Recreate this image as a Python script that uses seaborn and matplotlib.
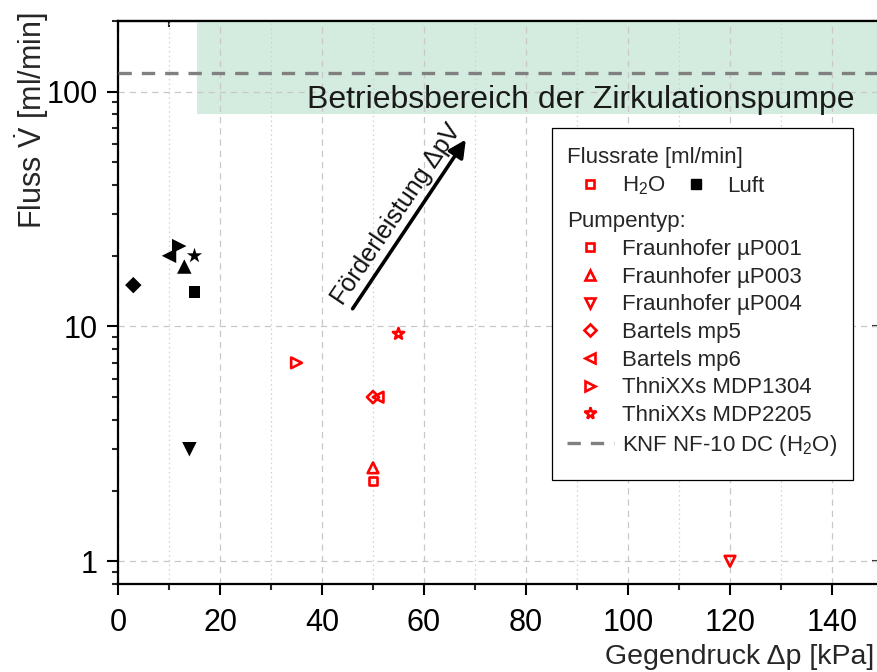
import matplotlib
matplotlib.use("Agg")
import matplotlib.pyplot as plt
from matplotlib.lines import Line2D
from matplotlib.patches import Rectangle
from matplotlib.ticker import MultipleLocator, LogLocator, FixedLocator, FixedFormatter, NullFormatter
import pandas as pd
import seaborn as sns

# ---- data -------------------------------------------------------------
pumps = ["Fraunhofer µP001", "Fraunhofer µP003", "Fraunhofer µP004",
         "Bartels mp5", "Bartels mp6", "ThniXXs MDP1304", "ThniXXs MDP2205"]
pump_markers = ["s", "^", "v", "D", "<", ">", "*"]

# back pressure [kPa] and flow rate [ml/min] per pump
h2o_pressure = [50, 50, 120, 50, 51, 35, 55]
h2o_flow = [2.2, 2.5, 1.0, 5.0, 5.0, 7.0, 9.3]
air_pressure = [15, 13, 14, 3, 10, 12, 15]
air_flow = [14, 18, 3.0, 15, 20, 22, 20]

knf_flow = 120                 # KNF NF-10 DC (water)
operating_x = [15.5, 150]      # operating range of the circulation pump
operating_y = [80, 200]

arrow_start = (46, 11.9)
arrow_end = (68.2, 62.5)

x_ticks = [0, 20, 40, 60, 80, 100, 120, 140]
y_ticks = [1, 10, 100]
y_tick_labels = ["1", "10", "100"]

# ---- style ------------------------------------------------------------
sns.set_style("white")
plt.rcParams["font.family"] = ["Liberation Sans", "DejaVu Sans"]
plt.rcParams["mathtext.fontset"] = "custom"
plt.rcParams["mathtext.rm"] = "Liberation Sans"
plt.rcParams["mathtext.it"] = "Liberation Sans:italic"
plt.rcParams["mathtext.bf"] = "Liberation Sans:bold"

W, H = 877, 672
fig = plt.figure(figsize=(W / 100, H / 100), dpi=100)
ax = fig.add_axes([118 / W, 1 - 584 / H, 765 / W, 563 / H])
ax.set_xscale("linear")
ax.set_yscale("log")
ax.set_xlim(0, 150)
ax.set_ylim(0.8, 200)

# operating range band
ax.fill_between(operating_x, operating_y[0], operating_y[1],
                color="#d4ecdf", linewidth=0, zorder=0.2)
ax.text(144.5, 85.5, "Betriebsbereich der Zirkulationspumpe",
        ha="right", va="baseline", fontsize=23, color="#1a1a1a", zorder=3)

# KNF reference flow
ax.axhline(knf_flow, color="#808080", lw=2.4, dashes=(4, 3), zorder=3)

# ---- scatter points ---------------------------------------------------
marker_map = dict(zip(pumps, pump_markers))
area_scale = {"s": 1.0, "D": 1.0, "^": 1.55, "v": 1.55, "<": 1.55, ">": 1.55, "*": 1.9}

df_h2o = pd.DataFrame({"pressure": h2o_pressure, "flow": h2o_flow, "pump": pumps})
df_air = pd.DataFrame({"pressure": air_pressure, "flow": air_flow, "pump": pumps})

sns.scatterplot(data=df_air, x="pressure", y="flow", style="pump",
                markers=marker_map, style_order=pumps,
                s=[70 * area_scale[m] for m in pump_markers],
                color="black", edgecolor="black", linewidth=0,
                legend=False, ax=ax, zorder=5)
sns.scatterplot(data=df_h2o, x="pressure", y="flow", style="pump",
                markers=marker_map, style_order=pumps,
                s=[38 * area_scale[m] for m in pump_markers],
                facecolor="none", edgecolor="red", linewidth=1.9,
                legend=False, ax=ax, zorder=6)

# arrow for pump performance
ax.annotate("", xy=arrow_end, xytext=arrow_start,
            arrowprops=dict(arrowstyle="-|>", color="black", lw=2.6,
                            mutation_scale=26, shrinkA=0, shrinkB=0),
            zorder=4)
ax.text(54.5, 30, "Förderleistung ΔpV", rotation=56, rotation_mode="anchor",
        ha="center", va="center", fontsize=18, color="#111111", zorder=4)

# ---- axes, ticks, grid ------------------------------------------------
ax.set_axisbelow(True)
ax.xaxis.set_major_locator(FixedLocator(x_ticks))
ax.xaxis.set_minor_locator(MultipleLocator(10))
ax.yaxis.set_major_locator(FixedLocator(y_ticks))
ax.yaxis.set_major_formatter(FixedFormatter(y_tick_labels))
ax.yaxis.set_minor_locator(LogLocator(base=10, subs=range(2, 10)))
ax.yaxis.set_minor_formatter(NullFormatter())

ax.grid(which="major", axis="both", color="#c8c8c8", lw=0.9, linestyle=(0, (5, 4)))
ax.grid(which="minor", axis="x", color="#d0d0d0", lw=0.9, linestyle=(0, (1.2, 2.5)))

for s in ax.spines.values():
    s.set_linewidth(1.6)
    s.set_color("black")

ax.tick_params(which="both", bottom=True, left=True, top=False, right=False)
ax.tick_params(which="major", direction="out", length=8, width=1.5,
               labelsize=22, colors="black")
ax.tick_params(which="minor", direction="out", length=4.5, width=1.5)
ax.tick_params(axis="x", which="major", pad=9)
ax.tick_params(axis="y", which="major", pad=6.5)

top = ax.secondary_xaxis("top")
top.xaxis.set_major_locator(FixedLocator(x_ticks))
top.xaxis.set_minor_locator(MultipleLocator(10))
top.tick_params(which="both", top=True, labeltop=False)
top.tick_params(which="major", direction="in", length=8, width=1.5)
top.tick_params(which="minor", direction="in", length=4.5, width=1.5)
top.spines["top"].set_linewidth(1.6)

right = ax.secondary_yaxis("right")
right.set_yscale("log")
right.yaxis.set_major_locator(FixedLocator(y_ticks))
right.yaxis.set_minor_locator(LogLocator(base=10, subs=range(2, 10)))
right.yaxis.set_minor_formatter(NullFormatter())
right.tick_params(which="both", right=True, labelright=False)
right.tick_params(which="major", direction="in", length=8, width=1.5)
right.tick_params(which="minor", direction="in", length=4.5, width=1.5)

ax.set_xlabel("Gegendruck Δp [kPa]", fontsize=20.5, loc="right")
ax.xaxis.set_label_coords(0.988, -0.1066)
ax.set_ylabel(r"Fluss $\dot{\mathrm{V}}$ [ml/min]", fontsize=22, loc="top")
ax.yaxis.set_label_coords(-0.0876, 1.016)

# ---- legend -----------------------------------------------------------
ax.add_patch(Rectangle((0.5673, 0.1847), 0.9608 - 0.5673, 0.810 - 0.1847,
                       transform=ax.transAxes, facecolor="white",
                       edgecolor="black", lw=0.9, zorder=7))

red_kw = dict(linestyle="none", markerfacecolor="none", markeredgecolor="red",
              markeredgewidth=1.9)
leg_kw = dict(frameon=False, alignment="left", fontsize=16, title_fontsize=16,
              handlelength=2.1, handletextpad=0.37, borderpad=0,
              borderaxespad=0, loc="upper left", labelspacing=0.3)

h_h2o = Line2D([], [], marker="s", markersize=6.2, **red_kw)
h_air = Line2D([], [], marker="s", linestyle="none", color="black", markersize=7.5)
leg1 = ax.legend([h_h2o, h_air], ["H$_2$O", "Luft"], title="Flussrate [ml/min]",
                 ncol=2, columnspacing=0.3, bbox_to_anchor=(0.587, 0.776), **leg_kw)
leg1.set_zorder(8)
ax.add_artist(leg1)

pump_handles = [Line2D([], [], marker=m,
                       markersize=6.2 * (area_scale[m] ** 0.5), **red_kw)
                for m in pump_markers]
pump_handles.append(Line2D([], [], color="#808080", lw=2.4, dashes=(4, 3)))
leg2 = ax.legend(pump_handles, pumps + ["KNF NF-10 DC (H$_2$O)"], title="Pumpentyp:",
                 bbox_to_anchor=(0.587, 0.662), **leg_kw)
leg2.set_zorder(8)

fig.savefig("out.png", dpi=100)
